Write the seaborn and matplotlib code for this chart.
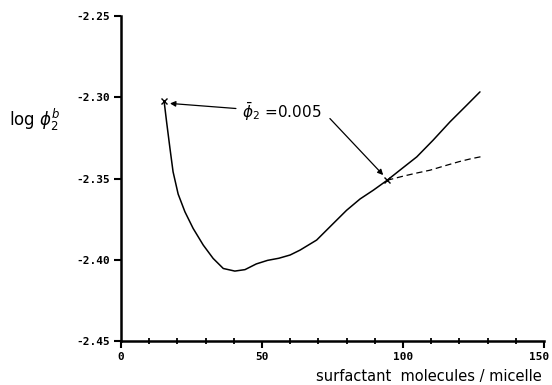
import matplotlib
matplotlib.use("Agg")
import matplotlib.pyplot as plt
from matplotlib.ticker import MultipleLocator
from matplotlib.transforms import ScaledTranslation
import pandas as pd
import seaborn as sns

# Equilibrium bulk concentration vs. micelle aggregation number
size_full = [15.3, 16.2, 17.4, 18.5, 20.3, 22.7, 25.6, 29.2, 32.7, 36.3, 40.4, 44,
             48, 52, 56, 60, 63.5, 69.4, 75.3, 80.0, 84.8, 89.5, 94.4, 98.9, 104.9,
             110.7, 116.7, 122.6, 127.3]
logphi_full = [-2.302, -2.315, -2.3314, -2.3458, -2.3595, -2.3704, -2.3806, -2.3909,
               -2.3991, -2.4053, -2.4069, -2.406, -2.4025, -2.4003, -2.399, -2.397,
               -2.394, -2.3878, -2.3776, -2.3695, -2.3625, -2.3571, -2.351, -2.3448,
               -2.3366, -2.3263, -2.315, -2.3048, -2.2966]

# Approximate branch beyond the second crossing point
size_approx = [94.4, 100, 105, 109.6, 115, 120, 124, 128.5]
logphi_approx = [-2.351, -2.3485, -2.3465, -2.3448, -2.342, -2.3395, -2.3378, -2.3362]

# Points where the overall concentration equals 0.005
cross_size = [15.3, 94.4]
cross_logphi = [-2.302, -2.351]

phi_label = r"$\bar{\phi}_2$ =0.005"

sns.set_style("ticks")
plt.rcParams["font.family"] = ["DejaVu Sans"]

fig = plt.figure(figsize=(5.52, 3.85), dpi=100)
ax = fig.add_axes([0.219, 0.114, 0.7665, 0.844])

full = pd.DataFrame({"n": size_full, "logphi": logphi_full})
approx = pd.DataFrame({"n": size_approx, "logphi": logphi_approx})

sns.lineplot(data=full, x="n", y="logphi", ax=ax, color="black", linewidth=1.1,
             sort=False, estimator=None)
sns.lineplot(data=approx, x="n", y="logphi", ax=ax, color="black", linewidth=0.9,
             linestyle=(0, (5, 3)), sort=False, estimator=None)
ax.plot(cross_size, cross_logphi, linestyle="none", marker="x", color="black",
        markersize=4, markeredgewidth=1.0)

ax.set_xlim(0, 150)
ax.set_ylim(-2.45, -2.25)
ax.xaxis.set_minor_locator(MultipleLocator(10))
ax.set_yticks([-2.45, -2.40, -2.35, -2.30, -2.25])
ax.set_yticklabels(["-2.45", "-2.40", "-2.35", "-2.30", "-2.25"])
ax.set_xticks([0, 50, 100, 150])
ax.set_xticklabels(["0", "50", "100", "150"])

for s in ("top", "right"):
    ax.spines[s].set_visible(False)
for s in ("left", "bottom"):
    ax.spines[s].set_linewidth(1.8)
    ax.spines[s].set_color("black")

ax.tick_params(axis="both", which="major", direction="out", length=5, width=1.5,
               colors="black", pad=3)
ax.tick_params(axis="x", which="minor", direction="inout", length=4, width=1.3,
               colors="black")
for lab in ax.get_xticklabels() + ax.get_yticklabels():
    lab.set_fontfamily("DejaVu Sans Mono")
    lab.set_fontweight("bold")
    lab.set_fontsize(8)

# Nudge the last x tick label so it stays inside the figure
last = ax.xaxis.get_major_ticks()[-1].label1
last.set_transform(last.get_transform() + ScaledTranslation(-5 / 100, 0, fig.dpi_scale_trans))

ax.set_xlabel("surfactant  molecules / micelle", fontsize=10.5, color="black")
ax.xaxis.set_label_coords(0.728, -0.085)
ax.set_ylabel(r"log $\phi_2^b$", fontsize=12, rotation=0, color="black")
ax.yaxis.set_label_coords(-0.203, 0.64)

# Label with arrows pointing at both crossing points
ax.annotate(phi_label, xy=(17.4, -2.3037), xytext=(57, -2.309),
            fontsize=11, ha="center", va="center", color="black",
            arrowprops=dict(arrowstyle="-|>", color="black", lw=0.9,
                            mutation_scale=8, shrinkA=2, shrinkB=0))
ax.annotate("", xy=(93.0, -2.3478), xytext=(74.1, -2.313),
            arrowprops=dict(arrowstyle="-|>", color="black", lw=0.9,
                            mutation_scale=8, shrinkA=0, shrinkB=0))

ax.set_facecolor("white")
fig.patch.set_facecolor("white")
fig.savefig("out.png", dpi=100, facecolor="white")
